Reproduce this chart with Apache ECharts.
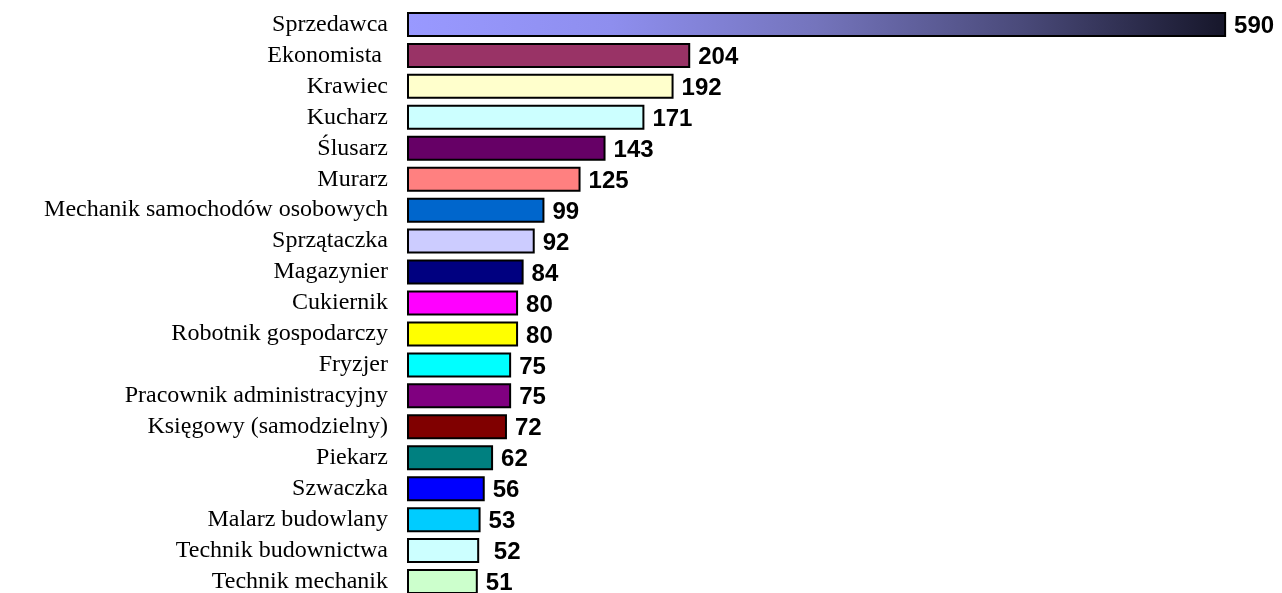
<!DOCTYPE html>
<html>
<head>
<meta charset="utf-8">
<script src="https://cdn.jsdelivr.net/npm/echarts@6/dist/echarts.min.js"></script>
<style>
html,body{margin:0;padding:0;background:#fff;overflow:hidden;}
#c{width:1282px;height:600px;}
</style>
</head>
<body>
<div id="c"></div>
<script>
const categories = ['Sprzedawca','Ekonomista ','Krawiec','Kucharz','Ślusarz','Murarz','Mechanik samochodów osobowych','Sprzątaczka','Magazynier','Cukiernik','Robotnik gospodarczy','Fryzjer','Pracownik administracyjny','Księgowy (samodzielny)','Piekarz','Szwaczka','Malarz budowlany','Technik budownictwa','Technik mechanik'];
const values = [590,204,192,171,143,125,99,92,84,80,80,75,75,72,62,56,53,52,51];
const valueLabels = ['590','204','192','171','143','125','99','92','84','80','80','75','75','72','62','56','53',' 52','51'];
const colors = [null,'#993366','#FFFFCC','#CCFFFF','#660066','#FF8080','#0066CC','#CCCCFF','#000080','#FF00FF','#FFFF00','#00FFFF','#800080','#800000','#008080','#0000FF','#00CCFF','#CCFFFF','#CCFFCC'];

const gradient = new echarts.graphic.LinearGradient(0,0,1,0,[
  {offset:0,color:'#9999FF'},
  {offset:0.25,color:'#8E8EEE'},
  {offset:0.5,color:'#7474BC'},
  {offset:0.75,color:'#4A4A7A'},
  {offset:1,color:'#16162A'}
]);

const chart = echarts.init(document.getElementById('c'));
chart.setOption({
  animation:false,
  grid:{left:407,right:42,top:9,bottom:3,containLabel:false},
  xAxis:{type:'value',min:0,max:600,show:false},
  yAxis:{
    type:'category',data:categories,inverse:true,
    axisLine:{show:false},axisTick:{show:false},splitLine:{show:false},
    axisLabel:{interval:0,hideOverlap:false,margin:19,color:'#000',fontFamily:'Liberation Serif',fontSize:24,lineHeight:24,padding:[3,0,0,0]}
  },
  series:[{
    type:'bar',
    barWidth:25,
    data:values.map((v,i)=>({value:v,itemStyle:{color:i===0?gradient:colors[i]}})),
    itemStyle:{borderColor:'#000',borderWidth:2},
    label:{
      show:true,position:'right',distance:8,offset:[0,2],
      color:'#000',fontFamily:'Liberation Sans',fontWeight:'bold',fontSize:24,
      formatter:p=>valueLabels[p.dataIndex]
    }
  }]
});
</script>
</body>
</html>
